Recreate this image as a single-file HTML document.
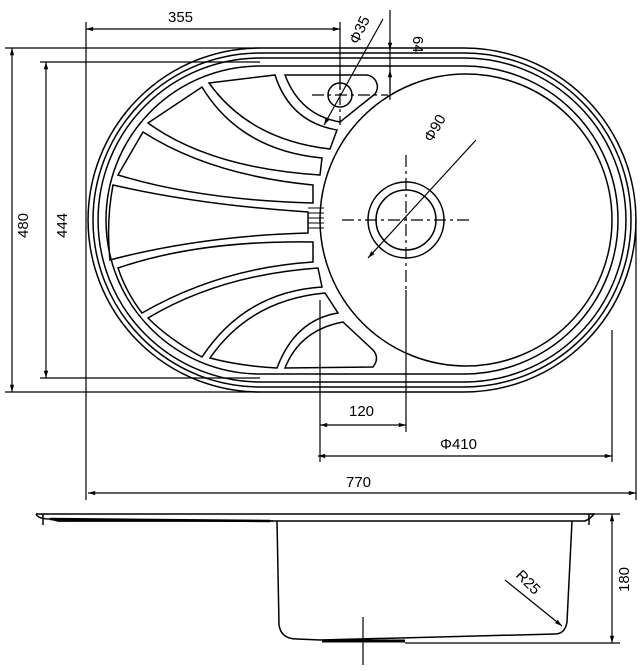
<!DOCTYPE html>
<html><head><style>html,body{margin:0;padding:0;background:#fff}svg{display:block}</style></head><body>
<svg width="640" height="671" viewBox="0 0 640 671" xmlns="http://www.w3.org/2000/svg" font-family="Liberation Sans, DejaVu Sans, sans-serif">
<defs>
<marker id="a" viewBox="0 0 10 10" refX="10" refY="5" markerWidth="8" markerHeight="6" orient="auto-start-reverse"><path d="M0,2 L10,5 L0,8 z" fill="#000"/></marker>
</defs>
<g fill="none" stroke="#000" stroke-width="1.5">
<path d="M260,48 H464 A172,172 0 0 1 464,392 H260 A172,172 0 0 1 260,48 Z"/>
<path d="M260,53 H464 A167,167 0 0 1 464,387 H260 A167,167 0 0 1 260,53 Z"/>
<path d="M260,58 H464 A162,162 0 0 1 464,382 H260 A162,162 0 0 1 260,58 Z"/>
<path d="M260,66 H464 A154,154 0 0 1 464,374 H260 A154,154 0 0 1 260,66 Z"/>
<circle cx="466" cy="220" r="146"/>
<circle cx="406" cy="220" r="38"/>
<circle cx="406" cy="220" r="30"/>
<circle cx="340" cy="95" r="12"/>
<!-- overflow panel -->
<path d="M285,75 H367 A12,12 0 0 1 375,94 L340,122 Q300,115 285,75 Z"/>
<!-- panels -->
<path d="M209,83 L275,75 Q290,122 337,130 L330,149 Q250,140 209,83 Z"/>
<path d="M148,123 L202,87 Q240,150 322,158 L320,175 Q210,168 148,123 Z"/>
<path d="M118,175 L143,132 Q210,175 313,185 L313,203 Q200,200 118,175 Z"/>
<path d="M113,185 Q200,205 308,212 L308,233 Q200,236 110,260 Q106,222 113,185 Z"/>
<path d="M118,268 Q200,240 313,242 L313,262 Q220,268 142,313 Q126,292 118,268 Z"/>
<path d="M148,318 Q220,275 318,268 L322,287 Q245,292 202,357 Q170,340 148,318 Z"/>
<path d="M210,358 Q250,300 325,293 L338,313 Q295,320 277,368 Q240,366 210,358 Z"/>
<path d="M285,368 Q300,330 343,322 L373,350 Q380,358 373,367 Z"/>
<path d="M308,208 h16 M308,213 h16 M308,218 h16 M308,223 h16 M308,228 h16" stroke-width="1.1"/>
</g>
<g stroke="#000" stroke-width="1.2" stroke-dasharray="12,4,3,4" fill="none">
<line x1="342" y1="220" x2="470" y2="220"/>
<line x1="406" y1="155" x2="406" y2="290"/>
<line x1="312" y1="95" x2="388" y2="95"/>
<line x1="340" y1="70" x2="340" y2="125"/>
</g>
<g stroke="#000" stroke-width="1.2" fill="none">
<line x1="86" y1="22" x2="86" y2="500"/>
<line x1="340" y1="22" x2="340" y2="90"/>
<line x1="86" y1="29" x2="340" y2="29" marker-start="url(#a)" marker-end="url(#a)"/>
<line x1="390" y1="10" x2="390" y2="100"/>
<line x1="390" y1="40" x2="390" y2="50" marker-end="url(#a)"/>
<line x1="390" y1="70" x2="390" y2="93" marker-start="url(#a)"/>
<line x1="383" y1="19" x2="324" y2="125" marker-end="url(#a)"/>
<line x1="476" y1="140" x2="368" y2="258" marker-end="url(#a)"/>
<line x1="5" y1="48" x2="260" y2="48"/>
<line x1="5" y1="392" x2="260" y2="392"/>
<line x1="12" y1="48" x2="12" y2="392" marker-start="url(#a)" marker-end="url(#a)"/>
<line x1="40" y1="62" x2="260" y2="62"/>
<line x1="40" y1="378" x2="260" y2="378"/>
<line x1="46" y1="62" x2="46" y2="378" marker-start="url(#a)" marker-end="url(#a)"/>
<line x1="320" y1="300" x2="320" y2="462"/>
<line x1="406" y1="290" x2="406" y2="432"/>
<line x1="320" y1="425" x2="406" y2="425" marker-start="url(#a)" marker-end="url(#a)"/>
<line x1="612" y1="330" x2="612" y2="462"/>
<line x1="318" y1="456" x2="612" y2="456" marker-start="url(#a)" marker-end="url(#a)"/>
<line x1="636" y1="220" x2="636" y2="500"/>
<line x1="88" y1="493" x2="636" y2="493" marker-start="url(#a)" marker-end="url(#a)"/>
</g>
<g font-size="15" fill="#000">
<text x="168" y="22">355</text>
<text x="432" y="143" transform="rotate(-60 432 143)">Φ90</text>
<text x="358" y="45" transform="rotate(-65 358 45)">Φ35</text>
<text x="413" y="36" transform="rotate(90 413 36)">64</text>
<text x="28" y="238" transform="rotate(-90 28 238)">480</text>
<text x="67" y="238" transform="rotate(-90 67 238)">444</text>
<text x="349" y="416">120</text>
<text x="440" y="449">Φ410</text>
<text x="346" y="487">770</text>
<text x="629" y="592" transform="rotate(-90 629 592)">180</text>
<text x="515" y="576" transform="rotate(45 515 576)">R25</text>
</g>
<!-- side view -->
<g fill="none" stroke="#000" stroke-width="1.5">
<path d="M36,514 H595"/>
<path d="M36,514 Q38,519 50,519 L58,521 H273"/>
<path d="M58,521 L335,521 H585 Q590,519 594,514"/>
<line x1="43" y1="514" x2="43" y2="525"/>
<line x1="589" y1="514" x2="589" y2="525"/>
<path d="M277,521 L279,625 Q281,639 297,639 L320,640 L555,634 Q565,634 567,622 L572,521"/>
<line x1="322" y1="641" x2="405" y2="641" stroke-width="3"/>
<line x1="50" y1="519" x2="270" y2="521" stroke-width="2.5"/>
</g>
<g stroke="#000" stroke-width="1.2" fill="none">
<line x1="363" y1="617" x2="363" y2="665"/>
<line x1="590" y1="514" x2="620" y2="514"/>
<line x1="405" y1="643" x2="620" y2="643"/>
<line x1="612" y1="514" x2="612" y2="643" marker-start="url(#a)" marker-end="url(#a)"/>
<line x1="505" y1="580" x2="562" y2="626" marker-end="url(#a)"/>
</g>
</svg>
</body></html>
